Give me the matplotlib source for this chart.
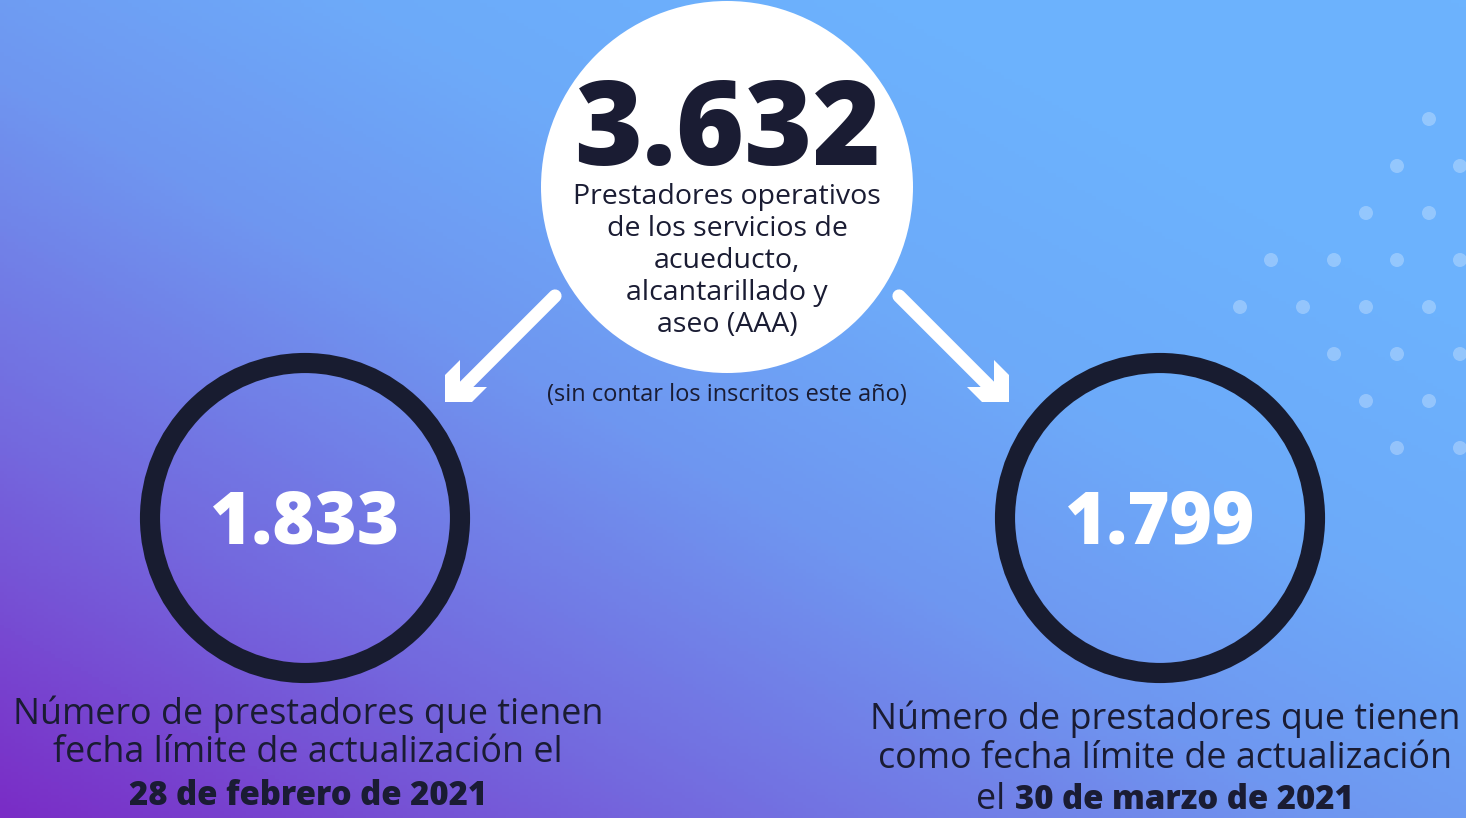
import numpy as np
import matplotlib
matplotlib.use("Agg")
from matplotlib import pyplot as plt
from matplotlib.colors import LinearSegmentedColormap
from matplotlib.patches import Circle, Polygon

# data
total_value = "3.632"
total_label = ["Prestadores operativos", "de los servicios de", "acueducto,",
               "alcantarillado y", "aseo (AAA)"]
total_note = "(sin contar los inscritos este año)"
group_values = ["1.833", "1.799"]
left_lines = ["Número de prestadores que tienen", "fecha límite de actualización el"]
left_bold = "28 de febrero de 2021"
right_lines = ["Número de prestadores que tienen", "como fecha límite de actualización"]
right_pre = "el "
right_bold = "30 de marzo de 2021"

W, H = 1466, 818
navy = "#1a1c33"
font = "Open Sans"

fig = plt.figure(figsize=(W / 100, H / 100), dpi=100)
ax = fig.add_axes([0, 0, 1, 1])
ax.set_xlim(0, W)
ax.set_ylim(H, 0)
ax.axis("off")

# diagonal background gradient (purple bottom-left -> light blue top-right)
xx, yy = np.meshgrid(np.linspace(0, 1, 400), np.linspace(0, 1, 250))
s = (xx + (1 - yy)) / 2
cmap = LinearSegmentedColormap.from_list("bg", [
    (0.0, "#7a2cc6"), (0.22, "#7466dd"), (0.45, "#6f96f0"),
    (0.62, "#6daaf9"), (0.8, "#6cb2fd"), (1.0, "#6cb3fe")])
ax.imshow(s, cmap=cmap, extent=[0, W, H, 0], aspect="auto", vmin=0, vmax=1, zorder=0)

# dotted pattern on the right
dots = [(1429, 119), (1397, 166), (1460, 166), (1366, 213), (1429, 213),
        (1271, 260), (1334, 260), (1397, 260), (1460, 260),
        (1240, 307), (1303, 307), (1366, 307), (1429, 307),
        (1334, 354), (1397, 354), (1460, 354),
        (1366, 401), (1429, 401), (1397, 448), (1460, 448)]
for dx, dy in dots:
    ax.add_patch(Circle((dx, dy), 7, color="white", alpha=0.28, lw=0, zorder=1))

# top white circle
ax.add_patch(Circle((727, 187), 186, color="white", lw=0, zorder=2))
ax.text(727, 165, total_value, ha="center", va="baseline", fontsize=84,
        fontweight="heavy", family=font, color=navy, zorder=3)
for i, line in enumerate(total_label):
    ax.text(727, 197 + 32 * i, line, ha="center", va="center", fontsize=20.5,
            family=font, color=navy, zorder=3)
ax.text(727, 395, total_note, ha="center", va="center", fontsize=17,
        family=font, color=navy, zorder=3)

# arrows
head = [(445, 402), (445, 375), (460, 360), (460, 387), (487, 387), (472, 402)]
for sign in (1, -1):
    fx = (lambda x: x) if sign == 1 else (lambda x: 1454 - x)
    ax.plot([fx(555), fx(462)], [296, 389], color="white", lw=9.5,
            solid_capstyle="round", zorder=2)
    ax.add_patch(Polygon([(fx(px), py) for px, py in head], closed=True,
                         color="white", lw=0, zorder=2))

# rings with numbers
for cx, val in zip([305, 1160], group_values):
    ax.add_patch(Circle((cx, 518), 155, fill=False, ec="#181c30", lw=14.5, zorder=2))
    ax.text(cx, 525, val, ha="center", va="center", fontsize=52,
            fontweight="heavy", family=font, color="white", zorder=3)

# bottom-left caption
for i, line in enumerate(left_lines):
    ax.text(308, 714 + 39 * i, line, ha="center", va="center", fontsize=25.8,
            family=font, color=navy)
ax.text(308, 805, left_bold, ha="center", va="baseline", fontsize=23.7,
        fontweight="heavy", family=font, color=navy)

# bottom-right caption
for i, line in enumerate(right_lines):
    ax.text(1165, 719 + 40 * i, line, ha="center", va="center", fontsize=25.8,
            family=font, color=navy)
t1 = ax.text(0, 809, right_pre, ha="left", va="baseline", fontsize=25.8,
             family=font, color=navy)
t2 = ax.text(0, 809, right_bold, ha="left", va="baseline", fontsize=23.7,
             fontweight="heavy", family=font, color=navy)
r = fig.canvas.get_renderer()
w1 = t1.get_window_extent(r).width
w2 = t2.get_window_extent(r).width
x0 = 1165 - (w1 + w2) / 2
t1.set_x(x0)
t2.set_x(x0 + w1)

fig.savefig("out.png", dpi=100)
